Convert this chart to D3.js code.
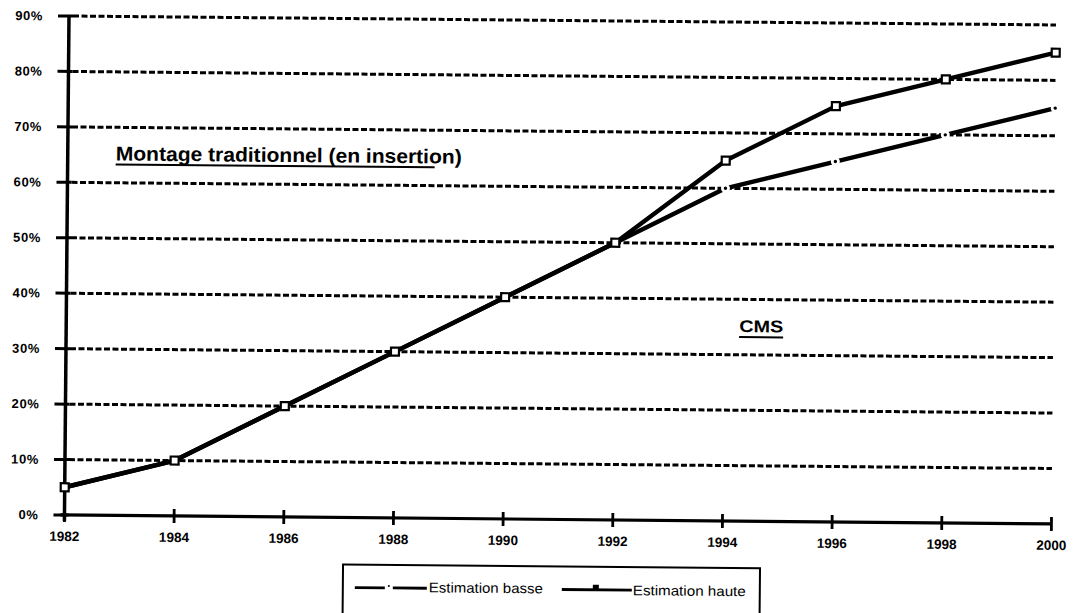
<!DOCTYPE html>
<html>
<head>
<meta charset="utf-8">
<script src="https://cdn.jsdelivr.net/npm/d3@7"></script>
<style>
  html, body { margin: 0; padding: 0; background: #fff; }
  svg { display: block; }
  text { font-family: "Liberation Sans", Arial, Helvetica, sans-serif; fill: #000; }
</style>
</head>
<body>
<svg id="chart" width="1076" height="613"></svg>
<script>
// ---- data ----
const years = [1982, 1984, 1986, 1988, 1990, 1992, 1994, 1996, 1998, 2000];
const estimationHaute = [5, 10, 20, 30, 40, 50, 65, 75, 80, 85];
const estimationBasse = [5, 10, 20, 30, 40, 50, 60, 65, 70, 75];
const yTickValues = [0, 10, 20, 30, 40, 50, 60, 70, 80, 90];
const yTickLabels = ["0%", "10%", "20%", "30%", "40%", "50%", "60%", "70%", "80%", "90%"];
const xTickLabels = ["1982", "1984", "1986", "1988", "1990", "1992", "1994", "1996", "1998", "2000"];
const seriesNames = ["Estimation basse", "Estimation haute"];
const regionLabels = ["Montage traditionnel (en insertion)", "CMS"];

// ---- layout ----
const svg = d3.select("#chart");
const pLeft = 69, pRight = 1056, pTop = 16, pBottom = 515;
const x = d3.scaleLinear().domain([1982, 2000]).range([pLeft, pRight]);
const y = d3.scaleLinear().domain([0, 90]).range([pBottom, pTop]);

// the scanned page is very slightly rotated clockwise
const g = svg.append("g").attr("transform", `rotate(0.52, ${pLeft}, ${pTop})`);

// gridlines
const grid = g.append("g");
yTickValues.filter(v => v > 0).forEach(v => {
  grid.append("line")
    .attr("x1", pLeft + 4).attr("x2", pRight)
    .attr("y1", y(v)).attr("y2", y(v))
    .attr("stroke", "#000").attr("stroke-width", 3)
    .attr("stroke-dasharray", "6,2.5");
});
// y ticks (short solid crossing marks)
yTickValues.forEach(v => {
  g.append("line")
    .attr("x1", pLeft - 11).attr("x2", pLeft + 4)
    .attr("y1", y(v)).attr("y2", y(v))
    .attr("stroke", "#000").attr("stroke-width", 3);
});
// y axis
g.append("line")
  .attr("x1", pLeft).attr("x2", pLeft)
  .attr("y1", y(90)).attr("y2", y(0) + 6)
  .attr("stroke", "#000").attr("stroke-width", 3.5);
// x axis
g.append("line")
  .attr("x1", pLeft - 4).attr("x2", pRight)
  .attr("y1", y(0)).attr("y2", y(0))
  .attr("stroke", "#000").attr("stroke-width", 3.2);
years.forEach(yr => {
  g.append("line")
    .attr("x1", x(yr)).attr("x2", x(yr))
    .attr("y1", y(0) - 7).attr("y2", y(0) + 7)
    .attr("stroke", "#000").attr("stroke-width", 2.8);
});

// y tick labels
g.selectAll(".ylab").data(yTickValues).enter().append("text")
  .attr("x", 43).attr("y", d => y(d) + 4.5)
  .attr("text-anchor", "end")
  .attr("font-size", 13).attr("font-weight", "bold")
  .attr("letter-spacing", 0.6)
  .text((d, i) => yTickLabels[i]);

// x tick labels
g.selectAll(".xlab").data(years).enter().append("text")
  .attr("x", d => x(d)).attr("y", y(0) + 26)
  .attr("text-anchor", "middle")
  .attr("font-size", 13.5).attr("font-weight", "bold")
  .text((d, i) => xTickLabels[i]);

// ---- series ----
const line = d3.line().x(d => x(d[0])).y(d => y(d[1]));
const basseData = years.map((yr, i) => [yr, estimationBasse[i]]);
const hauteData = years.map((yr, i) => [yr, estimationHaute[i]]);

g.append("path").datum(basseData)
  .attr("d", line).attr("fill", "none")
  .attr("stroke", "#000").attr("stroke-width", 4.4)
  .attr("stroke-linejoin", "round");
// small gaps with a dot at the points where the low estimate separates
const sepBasse = basseData.filter((d, i) => estimationBasse[i] !== estimationHaute[i]);
g.selectAll(".gap").data(sepBasse).enter().append("circle")
  .attr("cx", d => x(d[0])).attr("cy", d => y(d[1]))
  .attr("r", 4.5).attr("fill", "#fff");
g.selectAll(".dot").data(sepBasse).enter().append("circle")
  .attr("cx", d => x(d[0])).attr("cy", d => y(d[1]))
  .attr("r", 1.7).attr("fill", "#000");

g.append("path").datum(hauteData)
  .attr("d", line).attr("fill", "none")
  .attr("stroke", "#000").attr("stroke-width", 4.4)
  .attr("stroke-linejoin", "round");
g.selectAll(".sq").data(hauteData).enter().append("rect")
  .attr("x", d => x(d[0]) - 4).attr("y", d => y(d[1]) - 4)
  .attr("width", 8).attr("height", 8)
  .attr("fill", "#fff").attr("stroke", "#000").attr("stroke-width", 2.2);

// ---- region labels ----
g.append("text")
  .attr("x", 117).attr("y", 160)
  .attr("font-size", 20).attr("font-weight", "bold")
  .attr("textLength", 346).attr("lengthAdjust", "spacingAndGlyphs")
  .text(regionLabels[0]);
g.append("line").attr("x1", 117).attr("x2", 436).attr("y1", 164).attr("y2", 164)
  .attr("stroke", "#000").attr("stroke-width", 2);
g.append("text")
  .attr("x", 742).attr("y", 326)
  .attr("font-size", 17).attr("font-weight", "bold")
  .attr("textLength", 44).attr("lengthAdjust", "spacingAndGlyphs")
  .text(regionLabels[1]);
g.append("line").attr("x1", 742).attr("x2", 786).attr("y1", 331).attr("y2", 331)
  .attr("stroke", "#000").attr("stroke-width", 2);

// ---- legend ----
const lg = g.append("g");
lg.append("rect")
  .attr("x", 348).attr("y", 562)
  .attr("width", 417).attr("height", 60)
  .attr("fill", "none").attr("stroke", "#000").attr("stroke-width", 2);
// basse sample
lg.append("line").attr("x1", 360).attr("x2", 390).attr("y1", 585).attr("y2", 585)
  .attr("stroke", "#000").attr("stroke-width", 2.8);
lg.append("circle").attr("cx", 394).attr("cy", 583).attr("r", 1).attr("fill", "#000");
lg.append("line").attr("x1", 398).attr("x2", 432).attr("y1", 585).attr("y2", 585)
  .attr("stroke", "#000").attr("stroke-width", 2.8);
lg.append("text").attr("x", 434).attr("y", 589)
  .attr("font-size", 14).attr("textLength", 114).attr("lengthAdjust", "spacingAndGlyphs")
  .text(seriesNames[0]);
// haute sample
lg.append("line").attr("x1", 567).attr("x2", 637).attr("y1", 585).attr("y2", 585)
  .attr("stroke", "#000").attr("stroke-width", 2.8);
lg.append("rect").attr("x", 598).attr("y", 580).attr("width", 6).attr("height", 5)
  .attr("fill", "#000");
lg.append("text").attr("x", 638).attr("y", 590)
  .attr("font-size", 14).attr("textLength", 113).attr("lengthAdjust", "spacingAndGlyphs")
  .text(seriesNames[1]);
</script>
</body>
</html>
